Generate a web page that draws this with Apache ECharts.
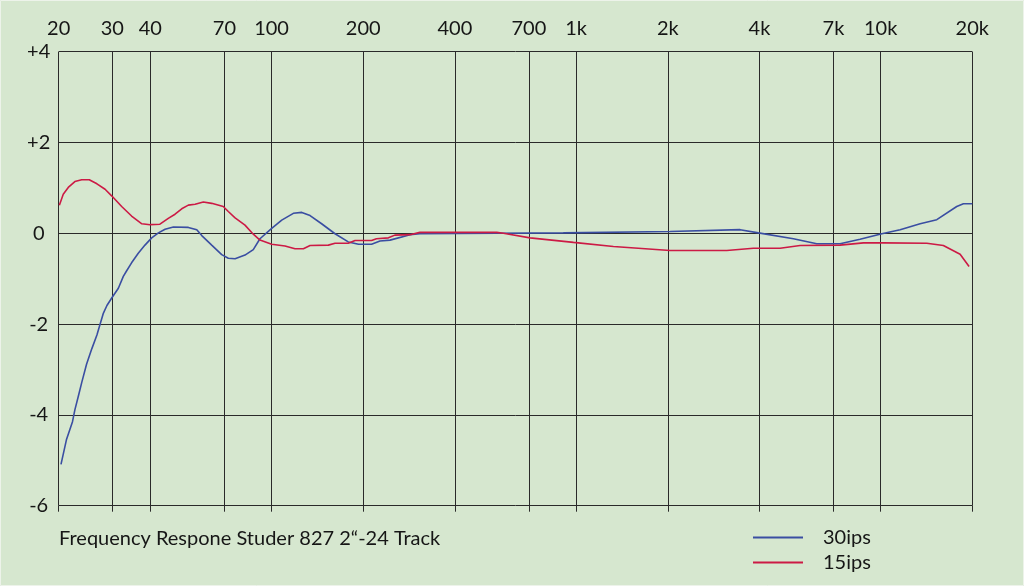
<!DOCTYPE html>
<html>
<head>
<meta charset="utf-8">
<script src="https://cdn.jsdelivr.net/npm/echarts@6/dist/echarts.min.js"></script>
<style>
html,body{margin:0;padding:0;background:#d6e7cf;}
#chart{width:1024px;height:586px;}
</style>
</head>
<body>
<div id="chart"></div>
<script>
// Frequency tick values (Hz) and their labels
const freqTicks = [20, 30, 40, 70, 100, 200, 400, 700, 1000, 2000, 4000, 7000, 10000, 20000];
const freqTickLabels = ['20', '30', '40', '70', '100', '200', '400', '700', '1k', '2k', '4k', '7k', '10k', '20k'];
// dB ticks
const dbTicks = [-6, -4, -2, 0, 2, 4];
const dbTickLabels = ['-6', '-4', '-2', '0', '+2', '+4'];

const seriesNames = ['30ips', '15ips'];

// 30ips response: [frequency Hz, dB]
const ips30 = [
  [20.35, -5.09], [21.2, -4.55], [22.2, -4.15], [22.6, -3.89], [23.2, -3.59], [23.8, -3.29],
  [24.7, -2.88], [25.7, -2.54], [26.7, -2.24], [27.3, -2.02], [28.0, -1.77], [28.8, -1.59],
  [29.9, -1.42], [31.4, -1.21], [32.6, -0.95], [33.4, -0.83], [34.7, -0.65], [36.5, -0.44],
  [38.4, -0.26], [40.4, -0.10], [42.5, 0.01], [44.7, 0.09], [47.6, 0.14], [53.3, 0.13],
  [56.8, 0.08], [59.0, -0.05], [63.6, -0.26], [68.6, -0.47], [72.1, -0.55], [75.9, -0.56],
  [81.8, -0.48], [87.1, -0.36], [91.6, -0.12], [100.1, 0.11], [108, 0.29], [117.9, 0.44],
  [125.7, 0.46], [133.8, 0.39], [146, 0.21], [161.6, -0.01], [178.6, -0.19], [193, -0.24],
  [213, -0.24], [227, -0.17], [245, -0.15], [285, -0.03], [307, -0.01], [549, 0.0],
  [908, 0.01], [2035, 0.04], [3456, 0.08], [3970, 0.01], [5170, -0.12], [6170, -0.23],
  [7360, -0.23], [8560, -0.13], [10090, -0.01], [11590, 0.08], [13480, 0.21], [15290, 0.30],
  [17780, 0.59], [18700, 0.65], [20000, 0.65]
];

// 15ips response: [frequency Hz, dB]
const ips15 = [
  [20.1, 0.62], [20.7, 0.86], [21.5, 1.01], [22.6, 1.14], [23.8, 1.18], [25.2, 1.18],
  [26.7, 1.09], [28.4, 0.97], [29.9, 0.82], [32.2, 0.59], [34.7, 0.38], [37.5, 0.21],
  [39.9, 0.19], [43.0, 0.20], [45.8, 0.33], [48.2, 0.42], [50.7, 0.54], [53.3, 0.62],
  [56.1, 0.64], [59.7, 0.69], [63.6, 0.66], [69.4, 0.59], [72.1, 0.48], [75.9, 0.34],
  [81.8, 0.18], [87.1, -0.02], [91.6, -0.15], [100.1, -0.24], [110.7, -0.28], [119.4, -0.34],
  [127.2, -0.34], [133.8, -0.27], [153.6, -0.26], [161.6, -0.22], [178.6, -0.22], [188, -0.16],
  [213, -0.16], [221, -0.12], [242, -0.10], [254, -0.04], [285, -0.03], [307, 0.02],
  [549, 0.02], [577, 0.0], [706, -0.10], [980, -0.20], [1326, -0.29], [2035, -0.38],
  [3124, -0.38], [3820, -0.33], [4676, -0.33], [5440, -0.27], [7360, -0.26], [8780, -0.21],
  [10210, -0.21], [14180, -0.22], [16070, -0.27], [18240, -0.46], [19520, -0.73]
];

const FONT = 'Lato';
const TXT = '#161616';
const GRIDC = '#2a2a2a';
const FS = 20;

const chart = echarts.init(document.getElementById('chart'), null, {renderer: 'canvas'});
const labelMap = {};
freqTicks.forEach((f, i) => { labelMap[f] = freqTickLabels[i]; });
const dbMap = {};
dbTicks.forEach((d, i) => { dbMap[d] = dbTickLabels[i]; });

chart.setOption({
  backgroundColor: '#d6e7cf',
  animation: false,
  title: {
    text: 'Frequency Respone Studer 827 2\u201C-24 Track',
    left: 59, top: 527, padding: 0,
    textStyle: {fontFamily: FONT, fontSize: FS, fontWeight: 'normal', color: TXT, lineHeight: 24}
  },
  legend: {
    data: seriesNames,
    orient: 'vertical',
    left: 753, top: 525, padding: 0,
    itemGap: 0,
    itemWidth: 50, itemHeight: 2,
    icon: 'rect',
    textStyle: {fontFamily: FONT, fontSize: FS, color: TXT, lineHeight: 25, padding: [0, 0, 0, 15]}
  },
  graphic: [{
    type: 'rect', shape: {x: 0.5, y: 0.5, width: 1023, height: 585},
    style: {fill: 'none', stroke: '#edf3ea', lineWidth: 1}, silent: true, z: 100
  }],
  grid: {left: 58.7, top: 51.7, width: 913.6, height: 454, containLabel: false},
  xAxis: [{
    type: 'log', logBase: 10, min: 20, max: 20000, position: 'top',
    axisLine: {show: false},
    axisTick: {show: true, customValues: freqTicks, length: 6, lineStyle: {color: GRIDC, width: 1}},
    axisLabel: {
      customValues: freqTicks, margin: 23, verticalAlign: 'middle',
      fontFamily: FONT, fontSize: FS, color: TXT,
      formatter: v => labelMap[Math.round(v)] || ''
    },
    splitLine: {show: true, lineStyle: {color: GRIDC, width: 1}},
    minorTick: {show: false}, minorSplitLine: {show: false}
  }, {
    type: 'log', logBase: 10, min: 20, max: 20000, position: 'bottom',
    axisLine: {show: false},
    axisTick: {show: true, customValues: freqTicks, length: 6, lineStyle: {color: GRIDC, width: 1}},
    axisLabel: {show: false},
    splitLine: {show: false}
  }],
  yAxis: {
    type: 'value', min: -6, max: 4, interval: 2,
    axisLine: {show: false}, axisTick: {show: false},
    axisLabel: {
      margin: 20, align: 'center', fontFamily: FONT, fontSize: FS, color: TXT,
      formatter: v => dbMap[v] !== undefined ? dbMap[v] : String(v)
    },
    splitLine: {show: true, lineStyle: {color: GRIDC, width: 1}}
  },
  series: [{
    name: seriesNames[0], type: 'line', xAxisIndex: 0, data: ips30,
    showSymbol: false, symbol: 'none', smooth: false,
    lineStyle: {color: '#3a4ea2', width: 1.6}, itemStyle: {color: '#3a4ea2'}, z: 3
  }, {
    name: seriesNames[1], type: 'line', xAxisIndex: 0, data: ips15,
    showSymbol: false, symbol: 'none', smooth: false,
    lineStyle: {color: '#cc1a45', width: 1.6}, itemStyle: {color: '#cc1a45'}, z: 4
  }]
});
</script>
</body>
</html>
